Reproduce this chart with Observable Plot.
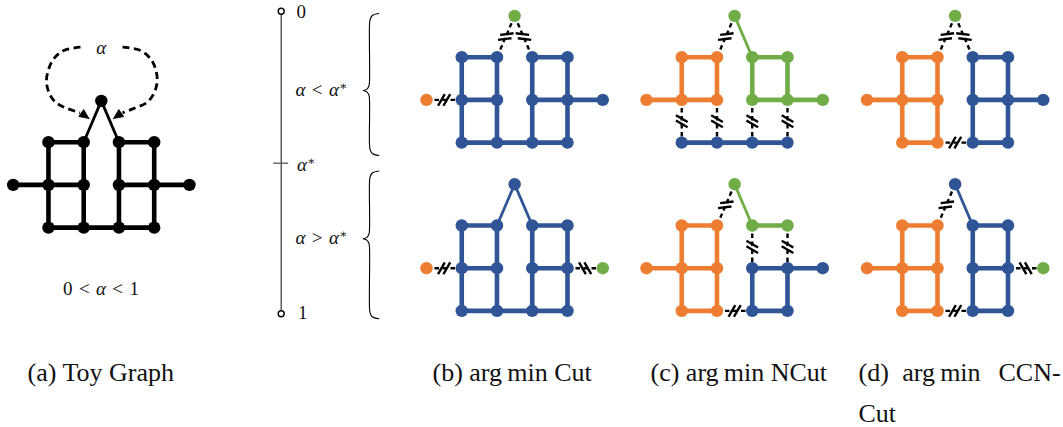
<!DOCTYPE html>
<html>
<head>
<meta charset="utf-8">
<script src="https://cdn.jsdelivr.net/npm/d3@7"></script>
<script src="https://cdn.jsdelivr.net/npm/@observablehq/plot@0.6"></script>
<style>
  html, body { margin: 0; padding: 0; background: #fff; }
  svg { display: block; }
</style>
</head>
<body>
<div id="chart"></div>
<script>
// ---------------- DATA ----------------
// Graph nodes (column index, row index; row -1 = the apex node)
const nodeIds = ["L","c1r0","c1r1","c1r2","c2r0","c2r1","c2r2","c3r0","c3r1","c3r2","c4r0","c4r1","c4r2","R","T"];
const nodeCol = [0, 1, 1, 1, 2, 2, 2, 3, 3, 3, 4, 4, 4, 5, 2.5];
const nodeRow = [1, 0, 1, 2, 0, 1, 2, 0, 1, 2, 0, 1, 2, 1, -1];

// Graph edges
const edgeFrom = ["L","c4r1","c1r0","c1r1","c1r2","c3r0","c3r1","c3r2","c2r2","c1r0","c1r1","c2r0","c2r1","c3r0","c3r1","c4r0","c4r1","T","T"];
const edgeTo   = ["c1r1","R","c2r0","c2r1","c2r2","c4r0","c4r1","c4r2","c3r2","c1r1","c1r2","c2r1","c2r2","c3r1","c3r2","c4r1","c4r2","c2r0","c3r0"];

// Cluster of every node (same order as nodeIds); k = black (toy graph)
const clustersToy       = ["k","k","k","k","k","k","k","k","k","k","k","k","k","k","k"];
const clustersCutAbove  = ["o","b","b","b","b","b","b","b","b","b","b","b","b","b","g"];
const clustersCutBelow  = ["o","b","b","b","b","b","b","b","b","b","b","b","b","g","b"];
const clustersNCutAbove = ["o","o","o","b","o","o","b","g","g","b","g","g","b","g","g"];
const clustersNCutBelow = ["o","o","o","o","o","o","o","g","b","b","g","b","b","b","g"];
const clustersCCNAbove  = ["o","o","o","o","o","o","o","b","b","b","b","b","b","b","g"];
const clustersCCNBelow  = ["o","o","o","o","o","o","o","b","b","b","b","b","b","g","b"];

const clusterKeys   = ["b","o","g","k"];
const clusterColors = ["#2F5597","#ED7D31","#70AD47","#000000"];

// Toy graph self-loop (dashed)
const loopLeftX  = [80, 63.3, 53.3, 47.7, 46, 49, 55, 65, 79.5];
const loopLeftY  = [46.7, 50, 58.3, 70, 81.7, 93.3, 101.7, 107.3, 112.3];
const loopRightX = [122, 140, 150, 155, 156.7, 154, 146.7, 135, 122];
const loopRightY = [46.7, 50, 58.3, 68.3, 80, 91.7, 101.7, 107.3, 112.3];
const arrowTipX  = [88.5, 113];
const arrowTipY  = [118, 118];
const arrowDir   = [35, 145];

// Texts
const mathCenterTexts = ["α", "0\u2004<\u2004α\u2004<\u20041"];
const mathStartTexts  = ["0", "1", "α*", "α\u2004<\u2004α*", "α\u2004>\u2004α*"];
const captionTexts = ["(a) Toy Graph", "(b) arg\u2009min Cut", "(c) arg\u2009min NCut", "(d)", "arg\u2009min", "CCN-", "Cut"];

// ---------------- LAYOUT ----------------
const W = 1063, H = 427;
const colStep = 35.25, rowStep = 42.7, apexLift = 41.3;
const panelLayout = [
  {clusters: clustersToy,       x0: 12.7,  y0: 141.7},
  {clusters: clustersCutAbove,  x0: 426,   y0: 56.7},
  {clusters: clustersCutBelow,  x0: 426,   y0: 225},
  {clusters: clustersNCutAbove, x0: 646,   y0: 56.7},
  {clusters: clustersNCutBelow, x0: 646,   y0: 225},
  {clusters: clustersCCNAbove,  x0: 866.5, y0: 56.7},
  {clusters: clustersCCNBelow,  x0: 866.5, y0: 225}
];
const mathCenterPos = [{x: 100.7, y: 53}, {x: 100.5, y: 294}];
const mathStartPos = [
  {x: 296,   y: 17.3},
  {x: 297.5, y: 318.3},
  {x: 296.5, y: 170},
  {x: 295,   y: 95},
  {x: 295,   y: 243.3}
];
const captionPos = [
  {x: 27, y: 380}, {x: 432, y: 380}, {x: 650, y: 380},
  {x: 858, y: 380}, {x: 901.7, y: 380}, {x: 998, y: 380}, {x: 858, y: 421.5}
];
const axis = {x: 280.7, yTop: 10.7, yStar: 162.7, yBottom: 313.3, tickHalf: 7.5};
const braces = [{t: 13, m: 90, b: 155}, {t: 170.5, m: 238.3, b: 318.3}];
const braceX = {end: 378.3, bar: 369, tip: 363};
const markLen = 13.5, markGap = 5.4, arrowLen = 9.5, arrowHalf = 4.3;

// ---------------- BUILD TABLES ----------------
const nodes = [], solidEdges = [], cutEdges = [];
panelLayout.forEach((p, pi) => {
  const pos = {};
  nodeIds.forEach((id, i) => {
    const x = p.x0 + nodeCol[i] * colStep;
    const y = nodeRow[i] < 0 ? p.y0 - apexLift : p.y0 + nodeRow[i] * rowStep;
    pos[id] = {x, y, cluster: p.clusters[i]};
    nodes.push({panel: pi, id, x, y, cluster: p.clusters[i]});
  });
  edgeFrom.forEach((a, k) => {
    const b = edgeTo[k], A = pos[a], B = pos[b];
    const e = {panel: pi, x1: A.x, y1: A.y, x2: B.x, y2: B.y,
      diag: a === "T" || b === "T", touchesRight: a === "R" || b === "R", cluster: A.cluster};
    (A.cluster === B.cluster ? solidEdges : cutEdges).push(e);
  });
});

// "//" cut symbols across every cut edge
const markSegs = [];
cutEdges.forEach(e => {
  const dx = e.x2 - e.x1, dy = e.y2 - e.y1, len = Math.hypot(dx, dy);
  const ux = dx / len, uy = dy / len, th = Math.atan2(uy, ux);
  let s;
  if (Math.abs(uy) < 1e-6) s = e.touchesRight ? 1 : -1;
  else if (Math.abs(ux) < 1e-6) s = -1;
  else s = Math.abs(Math.sin(th + Math.PI / 3)) < Math.abs(Math.sin(th - Math.PI / 3)) ? 1 : -1;
  const ph = th + s * Math.PI / 3, vx = Math.cos(ph), vy = Math.sin(ph);
  const mx = (e.x1 + e.x2) / 2, my = (e.y1 + e.y2) / 2;
  [-markGap / 2, markGap / 2].forEach(o => {
    const cx = mx + ux * o, cy = my + uy * o;
    markSegs.push({x1: cx - vx * markLen / 2, y1: cy - vy * markLen / 2,
                   x2: cx + vx * markLen / 2, y2: cy + vy * markLen / 2});
  });
});

// self loop
const loopPts = [];
loopLeftX.forEach((x, i) => loopPts.push({half: "L", x, y: loopLeftY[i]}));
loopRightX.forEach((x, i) => loopPts.push({half: "R", x, y: loopRightY[i]}));
const arrowPts = [];
arrowTipX.forEach((tx, i) => {
  const ty = arrowTipY[i], a = arrowDir[i] * Math.PI / 180;
  const bx = tx - Math.cos(a) * arrowLen, by = ty - Math.sin(a) * arrowLen;
  const px = -Math.sin(a) * arrowHalf, py = Math.cos(a) * arrowHalf;
  arrowPts.push({id: i, x: tx, y: ty}, {id: i, x: bx + px, y: by + py}, {id: i, x: bx - px, y: by - py}, {id: i, x: tx, y: ty});
});

// braces
const bracePts = [];
braces.forEach((br, i) => {
  const {t, m, b} = br, {end, bar, tip} = braceX;
  const upper = [[end, t], [bar + 2.8, t + 2], [bar + 0.6, t + 6], [bar, t + 11], [bar, m - 9], [bar - 0.6, m - 4.5], [bar - 2.6, m - 1.4], [tip, m]];
  const lower = [[tip, m], [bar - 2.6, m + 1.4], [bar - 0.6, m + 4.5], [bar, m + 9], [bar, b - 11], [bar + 0.6, b - 6], [bar + 2.8, b - 2], [end, b]];
  upper.forEach(([x, y]) => bracePts.push({g: i + "u", x, y}));
  lower.forEach(([x, y]) => bracePts.push({g: i + "l", x, y}));
});

const mathCenterData = mathCenterTexts.map((t, i) => ({text: t, ...mathCenterPos[i]}));
const mathStartData = mathStartTexts.map((t, i) => ({text: t, ...mathStartPos[i]}));
const capData = captionTexts.map((t, i) => ({text: t, ...captionPos[i]}));

const serif = "'Liberation Serif', 'DejaVu Serif', serif";
const mathSize = 19;

// ---------------- PLOT ----------------
const chart = Plot.plot({
  width: W, height: H,
  margin: 0,
  x: {domain: [0, W], range: [0, W], axis: null},
  y: {domain: [0, H], range: [0, H], axis: null},
  color: {type: "ordinal", domain: clusterKeys, range: clusterColors},
  style: {background: "#fff", overflow: "visible"},
  marks: [
    // alpha axis
    Plot.ruleX([axis], {x: "x", y1: "yTop", y2: "yBottom", stroke: "#333", strokeWidth: 1.2}),
    Plot.ruleY([axis], {y: "yStar", x1: d => d.x - d.tickHalf, x2: d => d.x + d.tickHalf, stroke: "#555", strokeWidth: 1.3}),
    Plot.dot([axis, axis], {x: "x", y: (d, i) => i ? d.yBottom : d.yTop, r: 3, fill: "#fff", stroke: "#000", strokeWidth: 1.4}),
    // braces
    Plot.line(bracePts, {x: "x", y: "y", z: "g", curve: "catmull-rom", stroke: "#000", strokeWidth: 1.1}),
    // toy self-loop
    Plot.line(loopPts, {x: "x", y: "y", z: "half", curve: "catmull-rom", stroke: "#000", strokeWidth: 2.8, strokeDasharray: "7,4.5", strokeLinecap: "butt"}),
    Plot.line(arrowPts, {x: "x", y: "y", z: "id", fill: "#000", stroke: "#000", strokeWidth: 0.8}),
    // cut edges
    Plot.link(cutEdges, {x1: "x1", y1: "y1", x2: "x2", y2: "y2", stroke: "#000", strokeWidth: 2.4, strokeDasharray: "4.5,3.5", strokeLinecap: "butt"}),
    Plot.link(markSegs, {x1: "x1", y1: "y1", x2: "x2", y2: "y2", stroke: "#000", strokeWidth: 2.4, strokeLinecap: "butt"}),
    // solid edges
    Plot.link(solidEdges.filter(e => !e.diag), {x1: "x1", y1: "y1", x2: "x2", y2: "y2", stroke: "cluster", strokeWidth: 4.6, strokeLinecap: "butt"}),
    Plot.link(solidEdges.filter(e => e.diag), {x1: "x1", y1: "y1", x2: "x2", y2: "y2", stroke: "cluster", strokeWidth: 2.8, strokeLinecap: "butt"}),
    // nodes
    Plot.dot(nodes, {x: "x", y: "y", r: 6.2, fill: "cluster", stroke: null}),
    // texts
    Plot.text(mathCenterData, {x: "x", y: "y", text: "text", textAnchor: "middle", lineAnchor: "bottom", fontSize: mathSize, fontFamily: serif, fill: "#111"}),
    Plot.text(mathStartData, {x: "x", y: "y", text: "text", textAnchor: "start", lineAnchor: "bottom", fontSize: mathSize, fontFamily: serif, fill: "#111"}),
    Plot.text(capData, {x: "x", y: "y", text: "text", textAnchor: "start", lineAnchor: "bottom", fontSize: 26, fontFamily: serif, fill: "#111"})
  ]
});

// math styling: italic α and superscript *
chart.querySelectorAll("text").forEach(t => {
  const s = t.textContent;
  if (!s.includes("α")) return;
  t.textContent = "";
  const ns = "http://www.w3.org/2000/svg";
  for (const ch of s) {
    const sp = document.createElementNS(ns, "tspan");
    if (ch === "α") { sp.setAttribute("font-style", "italic"); sp.textContent = ch; }
    else if (ch === "*") { sp.setAttribute("font-size", "12"); sp.setAttribute("dy", "-6"); sp.textContent = "∗"; }
    else sp.textContent = ch;
    t.appendChild(sp);
  }
});
document.getElementById("chart").appendChild(chart);
</script>
</body>
</html>
